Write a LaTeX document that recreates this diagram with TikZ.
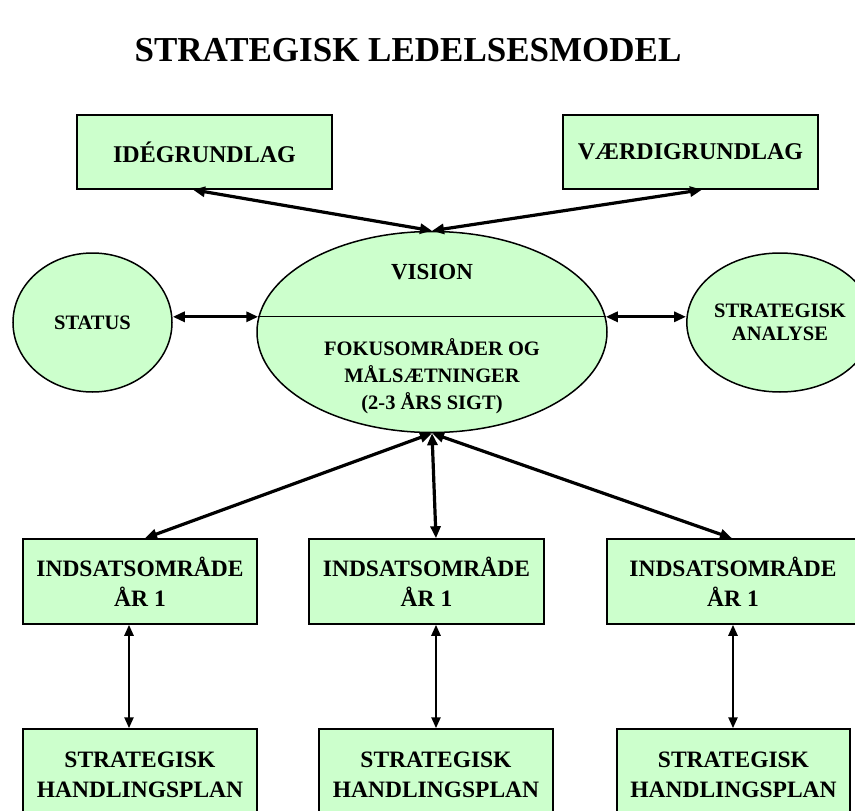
\documentclass[tikz,border=0pt]{standalone}
\usepackage{fontspec}
\setmainfont{Liberation Serif}
\usetikzlibrary{arrows.meta,positioning,shapes.geometric}
\definecolor{lysgroen}{HTML}{CCFFCC}
\tikzset{
	box/.style={draw, line width=1.5pt, fill=lysgroen, align=center, inner sep=0pt, font=\fontsize{23.5}{30}\selectfont\bfseries},
	oval/.style={draw, line width=1.5pt, fill=lysgroen, ellipse, align=center, inner sep=0pt, font=\fontsize{20.5}{23}\selectfont\bfseries},
	link/.style={{Triangle[length=12pt,width=10pt]}-{Triangle[length=12pt,width=10pt]}, line width=3.2pt},
	thinlink/.style={{Triangle[length=11pt,width=9pt]}-{Triangle[length=11pt,width=9pt]}, line width=2.4pt}
}

\begin{document}
\begin{tikzpicture}[x=1pt, y=-1pt]
	\useasboundingbox (0,0) rectangle (855,811);
	\node[font=\fontsize{35}{40}\selectfont\bfseries] (titel) at (408,50) {STRATEGISK LEDELSESMODEL};
	% top row
	\node[box, minimum width=255pt, minimum height=74pt, font=\fontsize{24}{28}\selectfont\bfseries] (ide) at (204.5,152) {IDÉGRUNDLAG};
	\node[box, minimum width=255pt, minimum height=74pt, font=\fontsize{24}{28}\selectfont\bfseries] (vaerdi) at (690.5,152) {VÆRDIGRUNDLAG};
	% middle row
	\node[oval, minimum width=350pt, minimum height=201pt] (vision) at (432,332) {};
	\node[oval, minimum width=159pt, minimum height=139pt] (status) at (92.5,322.5) {STATUS};
	\node[oval, minimum width=156pt, minimum height=139pt] (analyse) at (780,322.5) {STRATEGISK\\ANALYSE};
	\draw[line width=1.2pt] (vision.175) -- (vision.5);
	\node[font=\fontsize{23}{28}\selectfont\bfseries] (visiontekst) at (432,272) {VISION};
	\node[align=center, font=\fontsize{20.5}{27}\selectfont\bfseries] (fokus) at (432,376) {FOKUSOMRÅDER OG\\MÅLSÆTNINGER\\(2-3 ÅRS SIGT)};
	% indsatsomraader
	\node[box, minimum width=234pt, minimum height=85pt] (ind1) at (140,581.5) {INDSATSOMRÅDE\\ÅR 1};
	\node[box, minimum width=235pt, minimum height=85pt] (ind2) at (426.5,581.5) {INDSATSOMRÅDE\\ÅR 1};
	\node[box, minimum width=252pt, minimum height=85pt] (ind3) at (733,581.5) {INDSATSOMRÅDE\\ÅR 1};
	% handlingsplaner
	\node[box, minimum width=234pt, minimum height=92pt] (hand1) at (140,775) {STRATEGISK\\HANDLINGSPLAN};
	\node[box, minimum width=234pt, minimum height=92pt] (hand2) at (436,775) {STRATEGISK\\HANDLINGSPLAN};
	\node[box, minimum width=233pt, minimum height=92pt] (hand3) at (733.5,775) {STRATEGISK\\HANDLINGSPLAN};
	% forbindelser
	\draw[link] ([xshift=-11.5pt]ide.south) -- (vision.north);
	\draw[link] ([xshift=11.5pt]vaerdi.south) -- (vision.north);
	\draw[link] (status.east |- vision.175) -- (vision.175);
	\draw[link] (vision.5) -- (analyse.west |- vision.5);
	\draw[link] (vision.south) -- ([xshift=5pt]ind1.north);
	\draw[link] (vision.south) -- ([xshift=9.5pt]ind2.north);
	\draw[link] (vision.south) -- ([xshift=-1pt]ind3.north);
	\draw[thinlink] ([xshift=-11pt]ind1.south) -- ([xshift=-11pt]hand1.north);
	\draw[thinlink] (hand2.north |- ind2.south) -- (hand2.north);
	\draw[thinlink] (ind3.south) -- (ind3.south |- hand3.north);
\end{tikzpicture}
\end{document}
